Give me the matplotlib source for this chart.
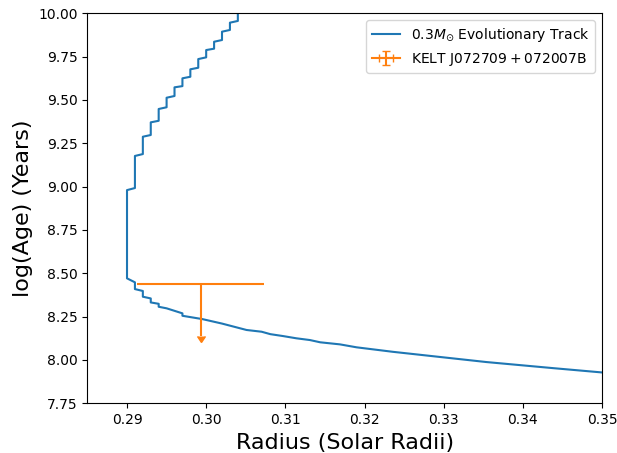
import matplotlib
matplotlib.use('Agg')
import matplotlib.pyplot as plt

# 0.3 Msun evolutionary track (radius in solar radii, log age in years)
track_radius = [0.3500, 0.3438, 0.3354, 0.3304, 0.3236, 0.3190, 0.3169, 0.3144,
                0.3131, 0.3114, 0.3097, 0.3081, 0.3070, 0.3051, 0.3020, 0.2995,
                0.2970, 0.2970, 0.2950,
                0.2940, 0.2940, 0.2930, 0.2930, 0.2920, 0.2920, 0.2910, 0.2910,
                0.2900, 0.2900, 0.2910, 0.2910, 0.2920, 0.2920, 0.2930, 0.2930,
                0.2940, 0.2940, 0.2950, 0.2950, 0.2960, 0.2960, 0.2970, 0.2970,
                0.2980, 0.2980, 0.2990, 0.2990, 0.3000, 0.3000, 0.3010, 0.3010,
                0.3020, 0.3020, 0.3030, 0.3030, 0.3040, 0.3040]
track_logage = [7.928, 7.953, 7.988, 8.013, 8.047, 8.073, 8.090, 8.102,
                8.115, 8.125, 8.138, 8.149, 8.163, 8.173, 8.210, 8.236,
                8.255, 8.269, 8.298,
                8.307, 8.324, 8.332, 8.355, 8.365, 8.398, 8.409, 8.448,
                8.471, 8.980, 8.992, 9.177, 9.188, 9.288, 9.298, 9.371,
                9.380, 9.448, 9.458, 9.513, 9.523, 9.573, 9.580, 9.625,
                9.634, 9.677, 9.686, 9.736, 9.746, 9.788, 9.796, 9.836,
                9.846, 9.894, 9.904, 9.946, 9.956, 10.05]

# KELT J072709+072007B: radius with error, age as upper limit
star_radius = 0.2993
star_radius_err = 0.008
star_logage = 8.436
star_logage_err = 0.3

fig = plt.figure(figsize=(6.17, 4.53), dpi=100)
ax = fig.add_axes([0.1417, 0.1097, 0.834, 0.8609])

ax.plot(track_radius, track_logage, color='tab:blue', lw=1.5,
        label=r'$0.3M_{\odot}$ Evolutionary Track')
ax.errorbar(star_radius, star_logage, xerr=star_radius_err, yerr=star_logage_err,
            uplims=True, color='tab:orange', lw=1.5,
            label=r'$\mathrm{KELT\ J072709+072007B}$')

ax.set_xlim(0.285, 0.35)
ax.set_ylim(7.75, 10.0)
ax.set_xlabel('Radius (Solar Radii)', fontsize=16)
ax.set_ylabel('log(Age) (Years)', fontsize=16)
ax.legend(loc='upper right')

fig.savefig('out.png', dpi=100)
